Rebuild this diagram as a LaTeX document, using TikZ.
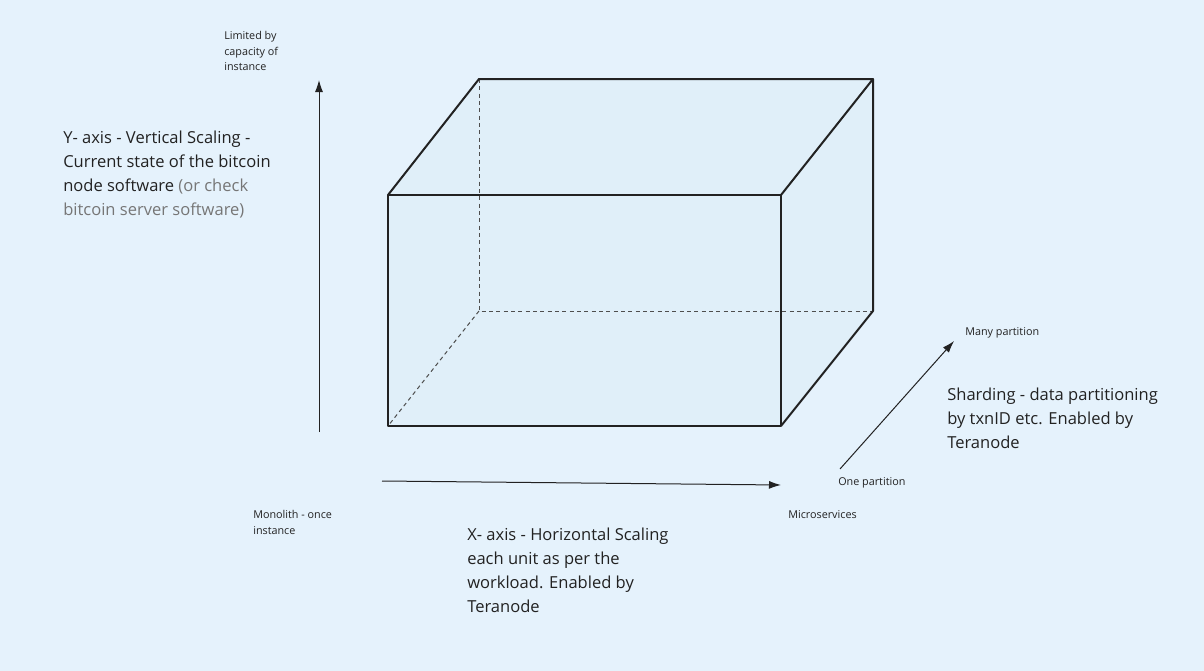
\documentclass[tikz,border=0pt]{standalone}
\usepackage{fontspec}
\setmainfont{Open Sans}
\usetikzlibrary{arrows.meta}
\definecolor{bg}{HTML}{E5F2FC}
\definecolor{boxfill}{HTML}{E0EFF9}
\definecolor{ink}{HTML}{222222}
\definecolor{soft}{HTML}{767676}
\begin{document}
\begin{tikzpicture}[x=0.75pt,y=-0.75pt,
  edge/.style={draw=ink,line width=1.5pt,line join=round},
  hidden/.style={draw=ink!80,line width=0.75pt,dash pattern=on 3pt off 2.5pt},
  axis/.style={draw=ink,line width=0.75pt,-{Latex[length=9pt,width=6pt]}},
  small/.style={font=\fontsize{8.1}{11.8}\selectfont,text=ink,anchor=north west,inner sep=0pt,align=left},
  big/.style={font=\fontsize{12.4}{17.9}\selectfont,text=ink,anchor=north west,inner sep=0pt,align=left}]
\fill[bg] (0,0) rectangle (1204,671);
\useasboundingbox (0,0) rectangle (1204,671);
% cube corners
\coordinate (fa) at (388,195);
\coordinate (fb) at (781,195);
\coordinate (fc) at (781,426);
\coordinate (fd) at (388,426);
\coordinate (ba) at (479,79);
\coordinate (bb) at (873,79);
\coordinate (bc) at (873,311);
\coordinate (bd) at (479,311);
\fill[boxfill] (fa) -- (ba) -- (bb) -- (bc) -- (fc) -- (fd) -- cycle;
\draw[hidden] (ba) -- (bd) -- (bc);
\draw[hidden] (bd) -- (fd);
\draw[edge] (fa) rectangle (fc);
\draw[edge] (fa) -- (ba) -- (bb) -- (fb);
\draw[edge] (bb) -- (bc) -- (fc);
% axes
\coordinate (y0) at (319,432);
\coordinate (y1) at (319,80);
\coordinate (x0) at (382,481);
\coordinate (x1) at (781,485);
\coordinate (z0) at (840,469);
\coordinate (z1) at (954,341);
\draw[axis] (y0) -- (y1);
\draw[axis] (x0) -- (x1);
\draw[axis] (z0) -- (z1);
% labels
\node[small] (lim) at (224,31) {Limited by\\capacity of\\instance};
\node[big] (yax) at (63,131) {Y- axis - Vertical Scaling -\\Current state of the bitcoin\\node software \textcolor{soft}{(or check}\\\textcolor{soft}{bitcoin server software)}};
\node[small] (mono) at (253,510) {Monolith - once\\instance};
\node[big] (xax) at (467,528) {X- axis - Horizontal Scaling\\each unit as per the\\workload. Enabled by\\Teranode};
\node[small] (micro) at (788,510) {Microservices};
\node[small] (one) at (838,477) {One partition};
\node[small] (many) at (965,327) {Many partition};
\node[big] (shard) at (947,388) {Sharding - data partitioning\\by txnID etc. Enabled by\\Teranode};
\end{tikzpicture}
\end{document}
